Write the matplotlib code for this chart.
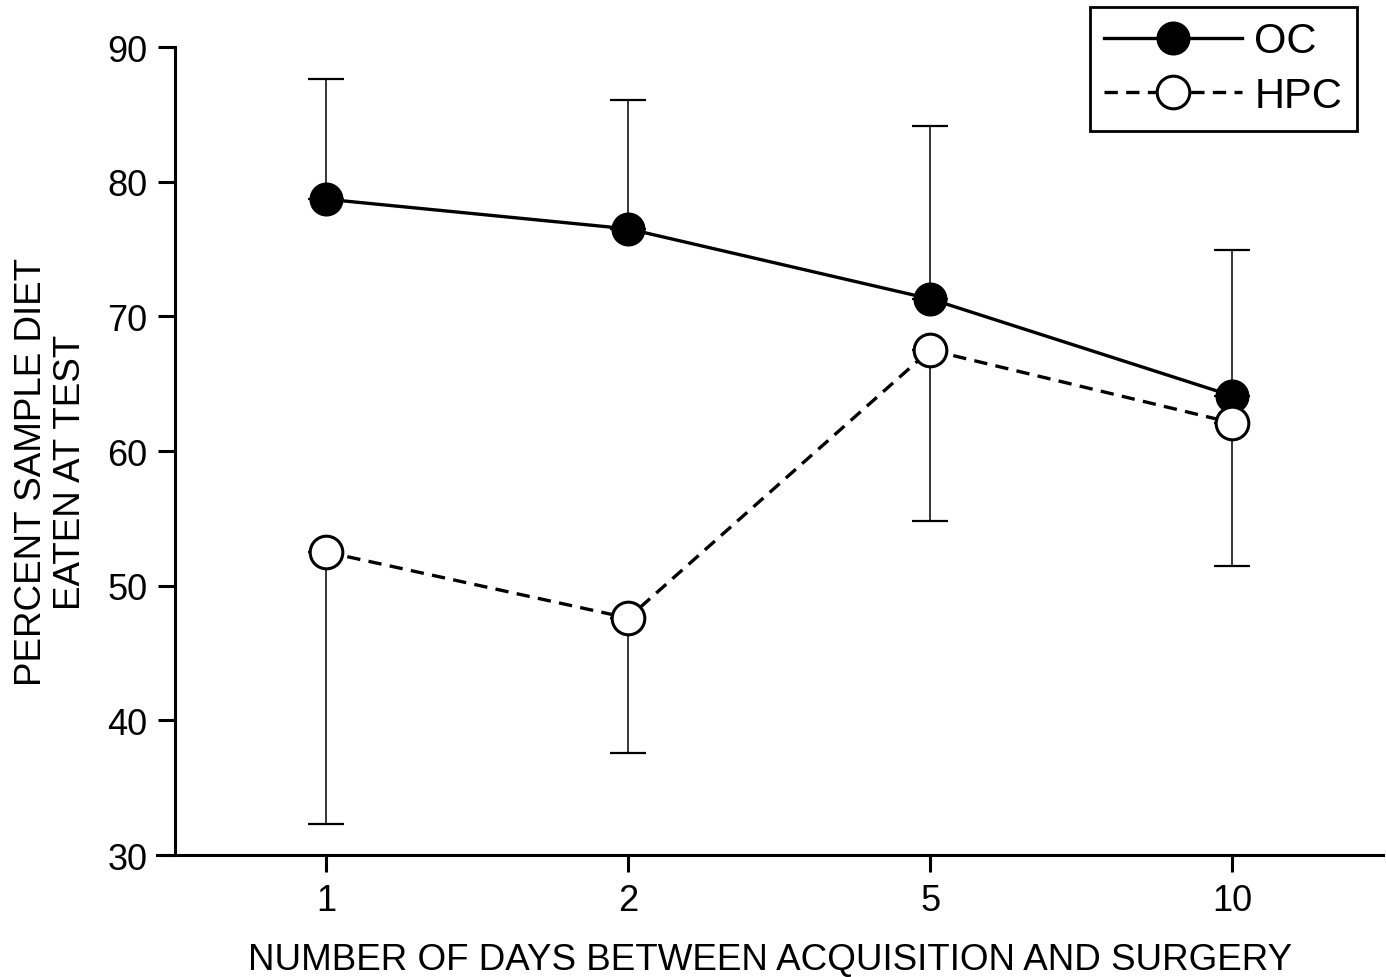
import matplotlib.pyplot as plt

plt.rcParams['font.family'] = ['Liberation Sans', 'DejaVu Sans']

# datos
dias = ['1', '2', '5', '10']
oc_media = [78.7, 76.5, 71.3, 64.1]
oc_error = [8.9, 9.6, 12.8, 10.8]
hpc_media = [52.5, 47.6, 67.5, 62.1]
hpc_error = [20.2, 10.0, 12.7, 10.6]

x = list(range(len(dias)))

fig = plt.figure(figsize=(13.86, 9.78), dpi=100)
ax = fig.add_axes([0.1133, 0.1247, 0.8846, 0.8262])

# barras de error: OC hacia arriba, HPC hacia abajo
ax.errorbar(x, oc_media, yerr=[[0] * 4, oc_error], fmt='none', ecolor='black',
            elinewidth=1.1, capsize=13, capthick=1.6, zorder=1)
ax.errorbar(x, hpc_media, yerr=[hpc_error, [0] * 4], fmt='none', ecolor='black',
            elinewidth=1.1, capsize=13, capthick=1.6, zorder=1)

ax.plot(x, oc_media, '-', color='black', lw=2.4, marker='o', ms=23.5,
        mfc='black', mec='black', label='OC', zorder=3)
ax.plot(x, hpc_media, '--', color='black', lw=2.4, dashes=(4, 2.5), marker='o', ms=23.5,
        mfc='white', mec='black', mew=2.2, label='HPC', zorder=3)

ax.set_xlim(-0.56, 3.5)
ax.set_ylim(30, 90)
ax.set_xticks(x)
ax.set_xticklabels(dias)
ax.set_yticks(range(30, 91, 10))

ax.spines['top'].set_visible(False)
ax.spines['right'].set_visible(False)
ax.spines['left'].set_position(('data', -0.5))
ax.spines['left'].set_linewidth(2.2)
ax.spines['bottom'].set_linewidth(2.2)
ax.tick_params(direction='out', length=12, width=2.2, labelsize=26, pad=8)

ax.set_xlabel('NUMBER OF DAYS BETWEEN ACQUISITION AND SURGERY', fontsize=26.5)
ax.xaxis.set_label_coords(0.5, -0.108)
ax.set_ylabel('PERCENT SAMPLE DIET\nEATEN AT TEST', fontsize=26.5, linespacing=1.15)
ax.yaxis.set_label_coords(-0.056, 0.475)

leg = fig.legend(loc='upper right', bbox_to_anchor=(0.979, 0.992), fontsize=30,
                 handlelength=3.3, handletextpad=0.3, borderpad=0.35, labelspacing=0.35,
                 borderaxespad=0, fancybox=False, edgecolor='black', framealpha=1)
leg.get_frame().set_linewidth(2)

fig.savefig('out.png', dpi=100)
